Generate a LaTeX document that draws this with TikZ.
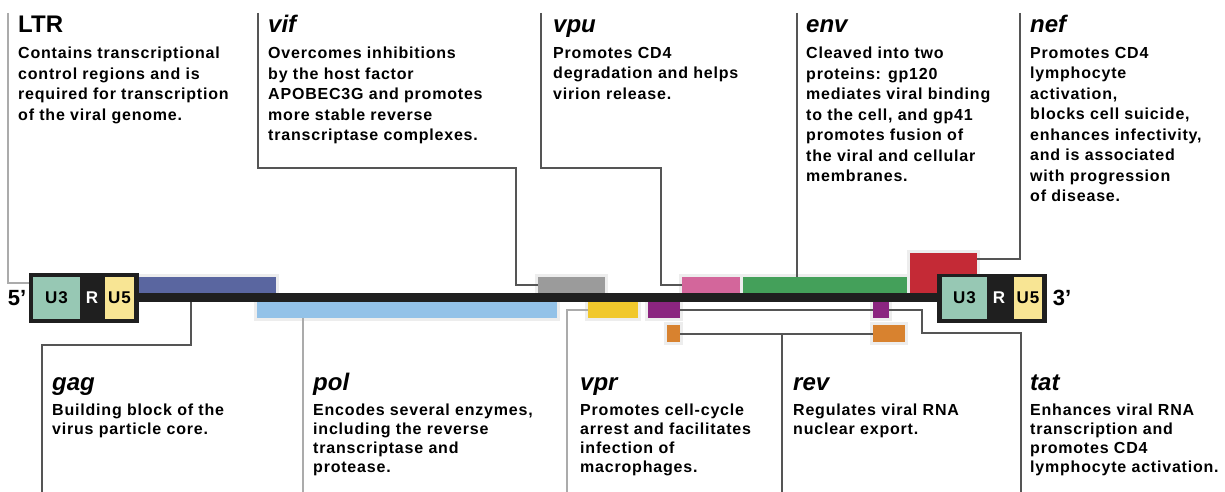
\documentclass[tikz,border=0pt]{standalone}
\usepackage{fontspec}
\setmainfont{Liberation Sans}
\newfontfamily\bodyfont[LetterSpace=5]{Liberation Sans}
\usetikzlibrary{calc}
\definecolor{tealc}{HTML}{97C8B4}
\definecolor{u5c}{HTML}{F8E594}
\definecolor{ltrc}{HTML}{1F1F1F}
\definecolor{gagc}{HTML}{5A66A0}
\definecolor{polc}{HTML}{93C2E8}
\definecolor{vifc}{HTML}{9B9B9B}
\definecolor{vprc}{HTML}{F1C82C}
\definecolor{tatc}{HTML}{8B2580}
\definecolor{revc}{HTML}{D8822F}
\definecolor{vpuc}{HTML}{D3669B}
\definecolor{envc}{HTML}{44A05A}
\definecolor{nefc}{HTML}{C42A36}
\definecolor{haloc}{HTML}{EDEDED}
\definecolor{darkln}{HTML}{555555}
\definecolor{lightln}{HTML}{ABABAB}
\begin{document}
\begin{tikzpicture}[x=1pt,y=-1pt,
  gene/.style={preaction={draw=haloc,line width=6pt},fill=#1,draw=none,inner sep=0pt,outer sep=0pt,anchor=north west},
  box/.style={fill=#1,draw=none,inner sep=0pt,outer sep=0pt,anchor=north west},
  boxtext/.style={font={\bodyfont\bfseries\fontsize{17pt}{20pt}\selectfont}},
  conn/.style={draw=darkln,line width=2pt},
  connlight/.style={draw=lightln,line width=2pt},
  ttl/.style={anchor=base west,inner sep=0pt,font={\bfseries\itshape\fontsize{24pt}{28pt}\selectfont}},
  body/.style={anchor=north west,inner sep=0pt,align=left,font={\bodyfont\bfseries\fontsize{16pt}{20.5pt}\selectfont}},
  bodyb/.style={anchor=north west,inner sep=0pt,align=left,font={\bodyfont\bfseries\fontsize{16pt}{19pt}\selectfont}},
  endlbl/.style={inner sep=0pt,font={\bfseries\fontsize{22pt}{24pt}\selectfont}}]
\useasboundingbox (0,0) rectangle (1225,492);

% coordinates for free ends
\coordinate (ltrTop) at (8,13);
\coordinate (vifTop) at (258,13);
\coordinate (vifBend) at (516,168);
\coordinate (vpuTop) at (541,13);
\coordinate (vpuBend) at (661,168);
\coordinate (envTop) at (797,13);
\coordinate (nefTop) at (1020,13);
\coordinate (gagBend) at (191,345);
\coordinate (gagBot) at (42,492);
\coordinate (polBot) at (303,492);
\coordinate (vprBot) at (567,492);
\coordinate (revBot) at (782,492);
\coordinate (tatBend) at (922,333);
\coordinate (tatBot) at (1021,492);

% gene bars
\node[gene=gagc,minimum width=139pt,minimum height=16pt] (gag) at (137,277) {};
\node[gene=polc,minimum width=300pt,minimum height=16pt] (pol) at (257,302) {};
\node[gene=vifc,minimum width=67pt,minimum height=16pt] (vif) at (538,277) {};
\node[gene=vprc,minimum width=50pt,minimum height=16pt] (vpr) at (588,302) {};
\node[gene=tatc,minimum width=32pt,minimum height=16pt] (tat1) at (648,302) {};
\node[gene=revc,minimum width=13pt,minimum height=17pt] (rev1) at (667,325) {};
\node[gene=vpuc,minimum width=58pt,minimum height=16pt] (vpu) at (682,277) {};
\node[gene=envc,minimum width=164pt,minimum height=16pt] (env) at (743,277) {};
\node[gene=nefc,minimum width=67pt,minimum height=40pt] (nef) at (910,253) {};
\node[gene=tatc,minimum width=16pt,minimum height=16pt] (tat2) at (873,302) {};
\node[gene=revc,minimum width=32pt,minimum height=17pt] (rev2) at (873,325) {};

% backbone
\node[box=ltrc,minimum width=805pt,minimum height=9pt] (backbone) at (135,293) {};

% LTR boxes
\node[box=ltrc,minimum width=110pt,minimum height=50pt] (ltrL) at (29,273) {};
\node[box=tealc,minimum width=47pt,minimum height=42pt,boxtext] (u3L) at (33,277) {U3};
\node[boxtext,text=white,inner sep=0pt] (rL) at (92,298) {R};
\node[box=u5c,minimum width=29pt,minimum height=42pt,boxtext] (u5L) at (105,277) {U5};
\node[box=ltrc,minimum width=110pt,minimum height=49pt] (ltrR) at (937,274) {};
\node[box=tealc,minimum width=45pt,minimum height=42pt,boxtext] (u3R) at (942,277) {U3};
\node[boxtext,text=white,inner sep=0pt] (rR) at (999,298) {R};
\node[box=u5c,minimum width=28pt,minimum height=42pt,boxtext] (u5R) at (1014,277) {U5};
\node[endlbl] (five) at (17,298) {5’};
\node[endlbl] (three) at (1062,298) {3’};

% top connectors
\draw[connlight] (ltrTop) |- ($(ltrL.north west)+(0,10)$);
\draw[conn] (vifTop) |- (vifBend) |- (vif.west);
\draw[conn] (vpuTop) |- (vpuBend) |- (vpu.west);
\draw[conn] (envTop) -- (envTop |- env.north);
\draw[conn] (nefTop) |- ($(nef.north east)+(0,6)$);

% bottom connectors
\draw[conn] (gagBend |- backbone.south) -- (gagBend) -| (gagBot);
\draw[connlight] (polBot |- pol.south) -- (polBot);
\draw[connlight] (vpr.west) -| (vprBot);
\draw[conn] (tat1.east) -- (tat2.west);
\draw[conn] (tat2.east) -| (tatBend) -| (tatBot);
\draw[conn] (rev1.east) -- (rev2.west);
\draw[conn] (revBot |- rev1.east) -- (revBot);

% top labels
\node[ttl,font={\bfseries\fontsize{24pt}{28pt}\selectfont}] (ltrT) at (18,33) {LTR};
\node[body] (ltrB) at (18,47) {Contains transcriptional\\control regions and is\\required for transcription\\of the viral genome.};
\node[ttl] (vifT) at (268,33) {vif};
\node[body] (vifB) at (268,47) {Overcomes inhibitions\\by the host factor\\APOBEC3G and promotes\\more stable reverse\\transcriptase complexes.};
\node[ttl] (vpuT) at (553,33) {vpu};
\node[body] (vpuB) at (553,47) {Promotes CD4\\degradation and helps\\virion release.};
\node[ttl] (envT) at (806,33) {env};
\node[body] (envB) at (806,47) {Cleaved into two\\proteins: gp120\\mediates viral binding\\to the cell, and gp41\\promotes fusion of\\the viral and cellular\\membranes.};
\node[ttl] (nefT) at (1030,33) {nef};
\node[body] (nefB) at (1030,47) {Promotes CD4\\lymphocyte\\activation,\\blocks cell suicide,\\enhances infectivity,\\and is associated\\with progression\\of disease.};

% bottom labels
\node[ttl] (gagT) at (52,390) {gag};
\node[bodyb] (gagB) at (52,404) {Building block of the\\virus particle core.};
\node[ttl] (polT) at (313,390) {pol};
\node[bodyb] (polB) at (313,404) {Encodes several enzymes,\\including the reverse\\transcriptase and\\protease.};
\node[ttl] (vprT) at (580,390) {vpr};
\node[bodyb] (vprB) at (580,404) {Promotes cell-cycle\\arrest and facilitates\\infection of\\macrophages.};
\node[ttl] (revT) at (793,390) {rev};
\node[bodyb] (revB) at (793,404) {Regulates viral RNA\\nuclear export.};
\node[ttl] (tatT) at (1030,390) {tat};
\node[bodyb] (tatB) at (1030,404) {Enhances viral RNA\\transcription and\\promotes CD4\\lymphocyte activation.};
\end{tikzpicture}
\end{document}
